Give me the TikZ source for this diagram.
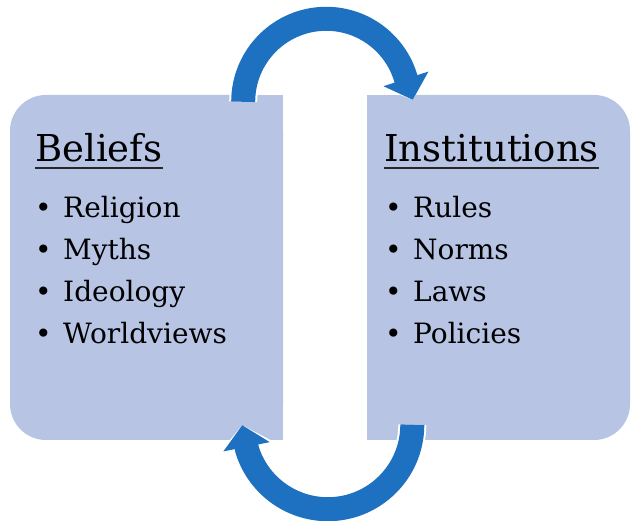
\documentclass[tikz,border=0pt]{standalone}
\usepackage{fontspec}
\setmainfont{DejaVu Serif}
\usepackage{xcolor}
\definecolor{boxblue}{RGB}{183,196,228}
\definecolor{arrowblue}{RGB}{30,112,192}
\usepackage{tikz}
\usetikzlibrary{arrows.meta}
\tikzstyle{box} = [
    rectangle,
    rounded corners=36pt,
    fill=boxblue,
    minimum height=345pt,
    inner sep=0pt,
]
\tikzstyle{title} = [
    anchor=base west,
    inner sep=0pt,
    font=\fontsize{37}{44}\selectfont,
]
\tikzstyle{item} = [
    anchor=base west,
    inner sep=0pt,
    font=\fontsize{28}{34}\selectfont,
]
\tikzstyle{underline} = [line width=2.5pt, black!85]
\tikzstyle{casing} = [white, line width=28pt, -{Triangle[width=53pt,length=22pt]}]
\tikzstyle{arrow} = [arrowblue, line width=24pt, -{Triangle[width=46pt,length=22pt]}]

\begin{document}
\begin{tikzpicture}[x=1pt, y=1pt]
    \fill[white] (0,0) rectangle (631,521);
    \useasboundingbox (0,0) rectangle (631,521);

    % boxes
    \node (beliefs) at (146.5, 253.5) [box, minimum width=273pt] {};
    \node (institutions) at (498.5, 253.5) [box, minimum width=263pt] {};
    \fill[boxblue] (beliefs.north) rectangle (beliefs.south east);
    \fill[boxblue] (institutions.north west) rectangle (institutions.south);

    % texts
    \node (beliefs title) at (35, 359) [title] {Beliefs};
    \node (institutions title) at (384, 359) [title] {Institutions};
    \draw [underline] ([yshift=-6pt]beliefs title.base west) -- ([yshift=-6pt]beliefs title.base east);
    \draw [underline] ([yshift=-6pt]institutions title.base west) -- ([yshift=-6pt]institutions title.base east);
    \foreach \name [count=\i] in {Religion, Myths, Ideology, Worldviews} {
        \node (belief\i) at (35, 345-42*\i) [item] {\makebox[28pt][l]{\textbullet}\name};
    }
    \foreach \name [count=\i] in {Rules, Norms, Laws, Policies} {
        \node (institution\i) at (385, 345-42*\i) [item] {\makebox[28pt][l]{\textbullet}\name};
    }

    % arrows
    \coordinate (top start) at ([xshift=-40pt, yshift=-7pt]beliefs.north east);
    \coordinate (top end) at ([xshift=46pt, yshift=-5pt]institutions.north west);
    \coordinate (bottom start) at ([xshift=45.5pt, yshift=15.5pt]institutions.south west);
    \coordinate (bottom end) at ([xshift=-41pt, yshift=15pt]beliefs.south east);

    \foreach \s in {casing, arrow} {
        \draw [\s] (top start) arc[start angle=180, end angle=16, radius=83pt] -- (top end);
        \draw [\s] (bottom start) arc[start angle=0, end angle=-162.6, radius=84.5pt] -- (bottom end);
    }
\end{tikzpicture}
\end{document}
